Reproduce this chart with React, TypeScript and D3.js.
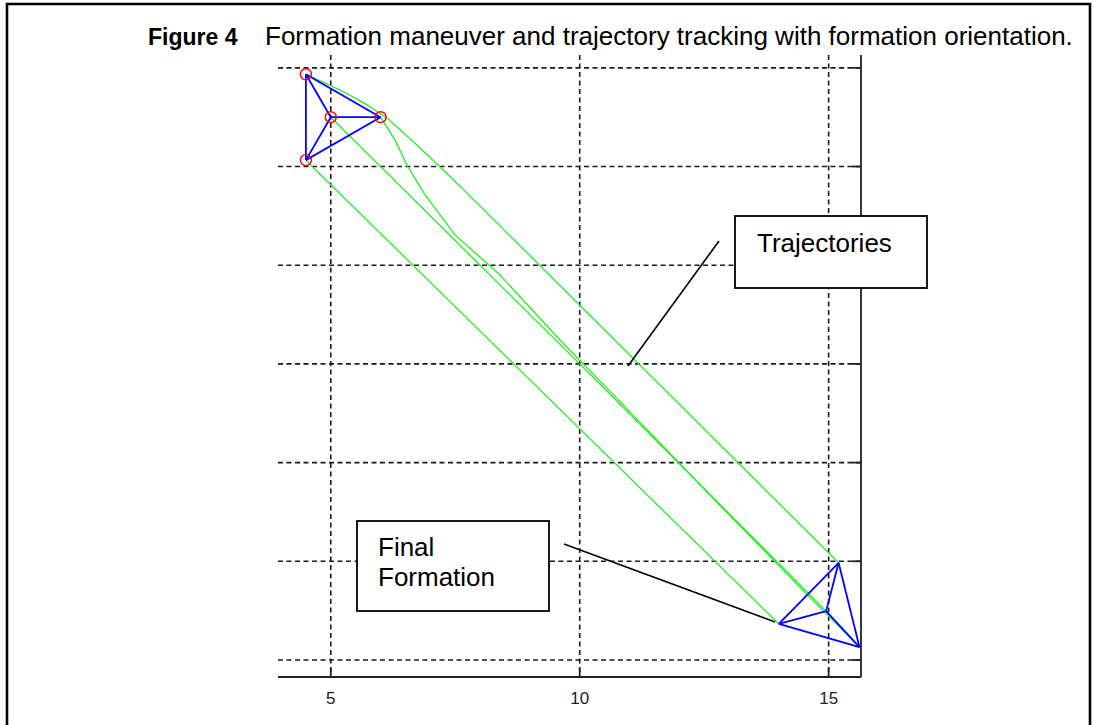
import React from "react";
import * as d3 from "d3";

const W = 1094;
const H = 725;

const figureLabel = "Figure 4";
const figureCaption = "Formation maneuver and trajectory tracking with formation orientation.";

// axis ticks / grid values
const xTicks = [5, 10, 15];
const yGrid = [0, 2, 4, 6, 8, 10, 12];

// agents: 0 = top vertex, 1 = leader (centre), 2 = front vertex, 3 = bottom vertex
const startX = [4.5, 5.0, 6.0, 4.5];
const startY = [11.87, 11.0, 11.0, 10.13];
const endX = [15.2, 14.95, 15.62, 14.0];
const endY = [1.97, 0.99, 0.26, 0.73];

// sampled positions along each agent's path
const trajTop: [number, number][] = [
  [4.5, 11.87], [5.18, 11.555], [5.7, 11.27], [6.15, 10.97], [6.79, 10.38], [7.59, 9.61], [15.2, 1.97],
];
const trajLeader: [number, number][] = [
  [5.0, 11.0], [10.0, 6.0], [14.95, 0.99],
];
const trajFront: [number, number][] = [
  [6.0, 11.0], [6.29, 10.54], [6.53, 10.03], [6.89, 9.43], [7.49, 8.62], [8.39, 7.81],
  [9.6, 6.49], [11.2, 4.83], [12.81, 3.14], [14.42, 1.48], [15.62, 0.26],
];
const trajBottom: [number, number][] = [
  [4.5, 10.13], [4.76, 9.87], [14.0, 0.73],
];
const trajectories = [trajTop, trajLeader, trajFront, trajBottom];

const x = d3.scaleLinear().domain([3.94, 15.65]).range([278, 861]);
const y = d3.scaleLinear().domain([-0.345, 12.26]).range([677, 55]);

const line = d3
  .line<[number, number]>()
  .x((d) => x(d[0]))
  .y((d) => y(d[1]));

function edges(xs: number[], ys: number[]) {
  const out: { x1: number; y1: number; x2: number; y2: number }[] = [];
  for (let i = 0; i < xs.length; i++)
    for (let j = i + 1; j < xs.length; j++)
      out.push({ x1: x(xs[i]), y1: y(ys[i]), x2: x(xs[j]), y2: y(ys[j]) });
  return out;
}

const FONT = "Liberation Sans, Arial, Helvetica, sans-serif";

export default function App() {
  const [x0, x1] = x.range();
  const [yb, yt] = y.range();
  const gridColor = "#1a1a1a";
  return (
    <div style={{ position: "fixed", left: 0, top: 0 }}>
      <svg width={W} height={H} style={{ display: "block", background: "#fff" }}>
        {/* page frame */}
        <path d={`M7,${H + 5} V4 H1090 V${H + 5}`} fill="none" stroke="#000" strokeWidth={2.6} />

        <text x={148} y={45} fontFamily={FONT} fontSize={23} fontWeight="bold" fill="#000">
          {figureLabel}
        </text>
        <text x={265} y={45} fontFamily={FONT} fontSize={26} fill="#000">
          {figureCaption}
        </text>

        {/* grid */}
        <g stroke={gridColor} strokeWidth={1.6} strokeDasharray="5,3.5" fill="none">
          {xTicks.map((t) => (
            <line key={"gx" + t} x1={x(t)} x2={x(t)} y1={yt} y2={yb} />
          ))}
          {yGrid.map((t) => (
            <line key={"gy" + t} x1={x0} x2={x1} y1={y(t)} y2={y(t)} />
          ))}
        </g>

        {/* axes with inward ticks */}
        <g stroke="#222" strokeWidth={1.8} fill="none">
          <line x1={x0} x2={x1} y1={yb} y2={yb} />
          <line x1={x1} x2={x1} y1={yt} y2={yb} />
          {xTicks.map((t) => (
            <line key={"tx" + t} x1={x(t)} x2={x(t)} y1={yb} y2={yb - 9} />
          ))}
          {yGrid.map((t) => (
            <line key={"ty" + t} x1={x1} x2={x1 - 9} y1={y(t)} y2={y(t)} />
          ))}
        </g>
        {xTicks.map((t) => (
          <text
            key={"lx" + t}
            x={x(t)}
            y={704}
            textAnchor="middle"
            fontFamily={FONT}
            fontSize={17}
            fill="#222"
          >
            {t}
          </text>
        ))}

        {/* trajectories */}
        <g fill="none" stroke="#22ee22" strokeWidth={1.3}>
          {trajectories.map((tr, i) => (
            <path key={"tr" + i} d={line(tr) ?? ""} />
          ))}
        </g>

        {/* formations */}
        <g stroke="#0000ff" strokeWidth={1.8}>
          {edges(startX, startY).map((e, i) => (
            <line key={"se" + i} {...e} />
          ))}
          {edges(endX, endY).map((e, i) => (
            <line key={"ee" + i} {...e} />
          ))}
        </g>
        <g fill="none" stroke="#ff0000" strokeWidth={1.4}>
          {startX.map((v, i) => (
            <circle key={"c" + i} cx={x(v)} cy={y(startY[i])} r={5.5} />
          ))}
        </g>

        {/* annotations */}
        <g stroke="#000" strokeWidth={1.6}>
          <line x1={719} y1={241} x2={628} y2={366} />
          <line x1={564} y1={544} x2={775} y2={622} />
        </g>
        <rect x={735} y={216} width={192} height={72} fill="#fff" stroke="#000" strokeWidth={1.8} />
        <text x={757} y={252} fontFamily={FONT} fontSize={26} fill="#000">
          Trajectories
        </text>
        <rect x={357} y={521} width={192} height={90} fill="#fff" stroke="#000" strokeWidth={1.8} />
        <text x={378} y={556} fontFamily={FONT} fontSize={26} fill="#000">
          Final
        </text>
        <text x={378} y={586} fontFamily={FONT} fontSize={26} fill="#000">
          Formation
        </text>
      </svg>
    </div>
  );
}
